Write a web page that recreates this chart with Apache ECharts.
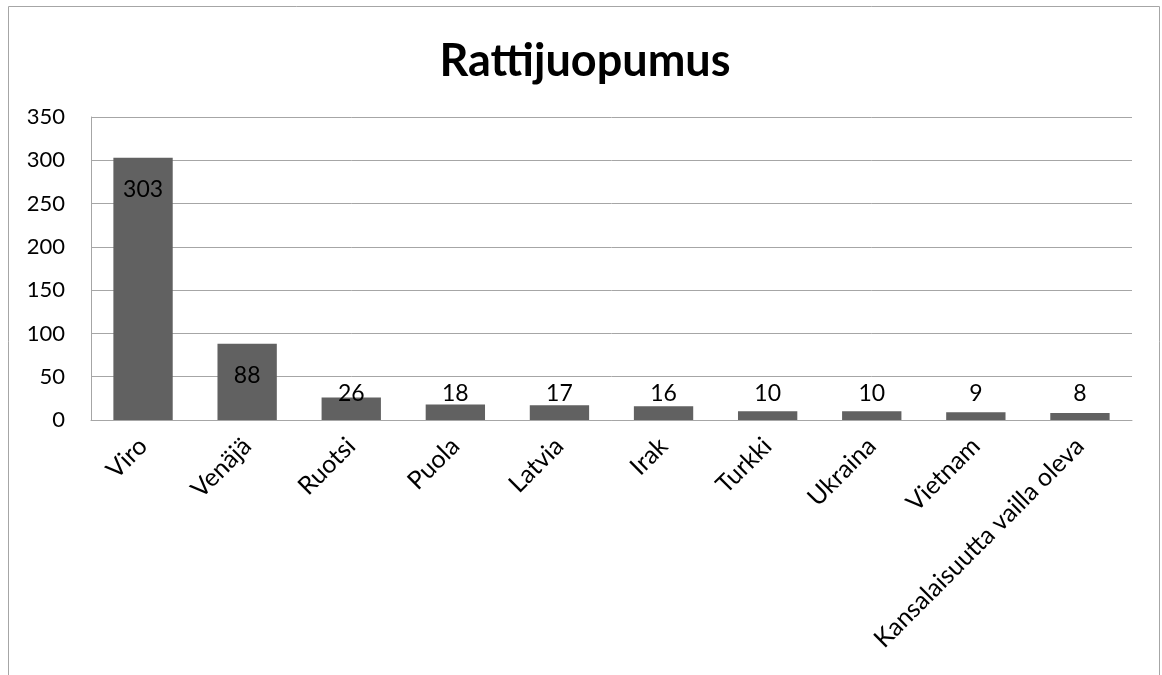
<!DOCTYPE html>
<html>
<head>
<meta charset="utf-8">
<title>Rattijuopumus</title>
<script src="https://cdn.jsdelivr.net/npm/echarts@6/dist/echarts.min.js"></script>
<style>
  html, body { margin: 0; padding: 0; background: #fff; }
  #chart { width: 1162px; height: 675px; }
</style>
</head>
<body>
<div id="chart"></div>
<script>
// kansalaisuudet
var categories = ["Viro", "Venäjä", "Ruotsi", "Puola", "Latvia", "Irak", "Turkki", "Ukraina", "Vietnam", "Kansalaisuutta vailla oleva"];
// tapaukset
var values = [303, 88, 26, 18, 17, 16, 10, 10, 9, 8];
var titleText = "Rattijuopumus";

var font = "Lato, 'Open Sans', sans-serif";

// isot arvot palkin sisään, pienet samalle riville palkin yläpuolelle
function buildData(arr) {
  var out = [];
  for (var i = 0; i < arr.length; i++) {
    var big = arr[i] > 50;
    out.push({
      value: arr[i],
      label: big
        ? { position: "insideTop", distance: 20 }
        : { position: "insideBottom", distance: 15 }
    });
  }
  return out;
}

var chart = echarts.init(document.getElementById("chart"));
chart.setOption({
  animation: false,
  title: {
    text: titleText,
    left: 580,
    top: 34,
    textAlign: "center",
    textStyle: { fontFamily: font, fontSize: 45, fontWeight: "bold", color: "#000" }
  },
  graphic: [{
    type: "rect",
    shape: { x: 8.5, y: 6.5, width: 1151, height: 720 },
    style: { fill: "none", stroke: "#a6a6a6", lineWidth: 1 },
    silent: true
  }],
  grid: { left: 91, right: 30, top: 117, bottom: 255 },
  xAxis: {
    type: "category",
    data: categories,
    axisLine: { lineStyle: { color: "#a6a6a6" } },
    axisTick: { show: false },
    axisLabel: {
      interval: 0,
      rotate: 45,
      margin: 22,
      color: "#000",
      fontFamily: font,
      fontSize: 25
    }
  },
  yAxis: {
    type: "value",
    min: 0,
    max: 350,
    interval: 50,
    axisLine: { show: true, lineStyle: { color: "#a6a6a6" } },
    axisTick: { show: false },
    splitLine: { lineStyle: { color: "#a6a6a6" } },
    axisLabel: { color: "#000", fontFamily: font, fontSize: 22, margin: 26 }
  },
  series: [{
    type: "bar",
    data: buildData(values),
    barWidth: "57%",
    itemStyle: { color: "#616161" },
    label: { show: true, color: "#000", fontFamily: font, fontSize: 23 }
  }]
});
</script>
</body>
</html>
